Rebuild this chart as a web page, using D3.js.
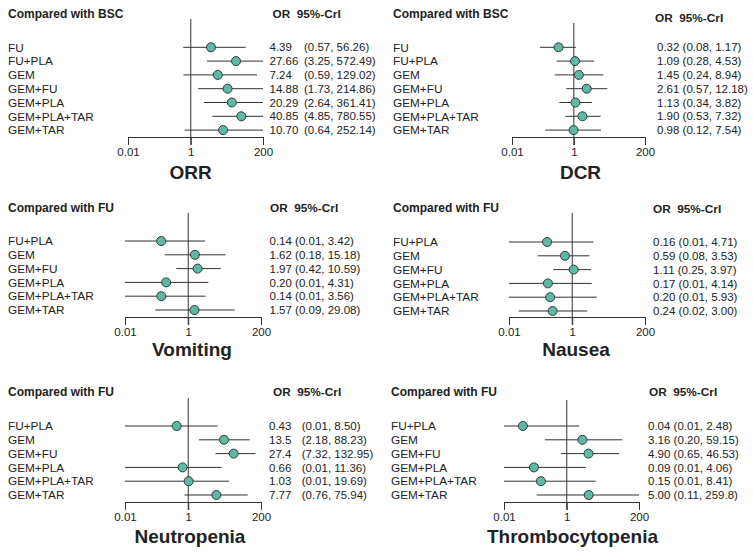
<!DOCTYPE html>
<html>
<head>
<meta charset="utf-8">
<script src="https://cdn.jsdelivr.net/npm/d3@7"></script>
<style>
  body { margin: 0; background: #fff; }
  svg text { font-family: "Liberation Sans", Arial, sans-serif; fill: #222; }
</style>
</head>
<body>
<div class="visHolder"></div>
<script>
// treatments
var armsBSC = ["FU", "FU+PLA", "GEM", "GEM+FU", "GEM+PLA", "GEM+PLA+TAR", "GEM+TAR"];
var armsFU = ["FU+PLA", "GEM", "GEM+FU", "GEM+PLA", "GEM+PLA+TAR", "GEM+TAR"];

// odds ratios and 95% CrI (kept as printed)
var orrOR = ["4.39", "27.66", "7.24", "14.88", "20.29", "40.85", "10.70"];
var orrLo = ["0.57", "3.25", "0.59", "1.73", "2.64", "4.85", "0.64"];
var orrHi = ["56.26", "572.49", "129.02", "214.86", "361.41", "780.55", "252.14"];

var dcrOR = ["0.32", "1.09", "1.45", "2.61", "1.13", "1.90", "0.98"];
var dcrLo = ["0.08", "0.28", "0.24", "0.57", "0.34", "0.53", "0.12"];
var dcrHi = ["1.17", "4.53", "8.94", "12.18", "3.82", "7.32", "7.54"];

var vomOR = ["0.14", "1.62", "1.97", "0.20", "0.14", "1.57"];
var vomLo = ["0.01", "0.18", "0.42", "0.01", "0.01", "0.09"];
var vomHi = ["3.42", "15.18", "10.59", "4.31", "3.56", "29.08"];

var nauOR = ["0.16", "0.59", "1.11", "0.17", "0.20", "0.24"];
var nauLo = ["0.01", "0.08", "0.25", "0.01", "0.01", "0.02"];
var nauHi = ["4.71", "3.53", "3.97", "4.14", "5.93", "3.00"];

var neuOR = ["0.43", "13.5", "27.4", "0.66", "1.03", "7.77"];
var neuLo = ["0.01", "2.18", "7.32", "0.01", "0.01", "0.76"];
var neuHi = ["8.50", "88.23", "132.95", "11.36", "19.69", "75.94"];

var thrOR = ["0.04", "3.16", "4.90", "0.09", "0.15", "5.00"];
var thrLo = ["0.01", "0.20", "0.65", "0.01", "0.01", "0.11"];
var thrHi = ["2.48", "59.15", "46.53", "4.06", "8.41", "259.8"];

var tickVals = [0.01, 1, 200];
var tickLabels = ["0.01", "1", "200"];

var panels = [
  {title: "ORR", ref: "Compared with BSC", arms: armsBSC, or: orrOR, lo: orrLo, hi: orrHi,
   lx: 8, hy: 18, oy: 18, r0: 47.3, ay: 137, x0: 128, x1: 263, vx: 269.5, cx: 304, ox: 272.5, top: 19, ty: 179, tdx: -5},
  {title: "DCR", ref: "Compared with BSC", arms: armsBSC, or: dcrOR, lo: dcrLo, hi: dcrHi,
   lx: 393, hy: 18, oy: 22, r0: 47.3, ay: 137, x0: 512, x1: 645, vx: 657, cx: null, ox: 655, top: 23, ty: 179, tdx: 2},
  {title: "Vomiting", ref: "Compared with FU", arms: armsFU, or: vomOR, lo: vomLo, hi: vomHi,
   lx: 8, hy: 212, oy: 212, r0: 241, ay: 317, x0: 125, x1: 261, vx: 269.5, cx: null, ox: 270, top: 213, ty: 356, tdx: -1},
  {title: "Nausea", ref: "Compared with FU", arms: armsFU, or: nauOR, lo: nauLo, hi: nauHi,
   lx: 393, hy: 212, oy: 213, r0: 242, ay: 317, x0: 509, x1: 645, vx: 653, cx: null, ox: 653, top: 213, ty: 356, tdx: -1},
  {title: "Neutropenia", ref: "Compared with FU", arms: armsFU, or: neuOR, lo: neuLo, hi: neuHi,
   lx: 8, hy: 396, oy: 396, r0: 426, ay: 502, x0: 125, x1: 261, vx: 269, cx: 301.7, ox: 273, top: 398, ty: 543, tdx: -3},
  {title: "Thrombocytopenia", ref: "Compared with FU", arms: armsFU, or: thrOR, lo: thrLo, hi: thrHi,
   lx: 391, hy: 396, oy: 396, r0: 426, ay: 502, x0: 504, x1: 639, vx: 648, cx: null, ox: 649, top: 400, ty: 543, tdx: 1}
];

var rowStep = 13.8;
var dotFill = "#5fb8a5";
var lineColor = "#333";
var labelSize = "11.8px";
var valueSize = "11.5px";

var svg = d3.select(".visHolder").append("svg")
  .attr("width", 753)
  .attr("height", 554);

panels.forEach(function(p) {
  var g = svg.append("g");
  var x = d3.scaleLog().domain([0.01, 200]).range([p.x0, p.x1]).clamp(true);
  var y = function(i) { return p.r0 + i * rowStep; };

  g.append("text")
    .attr("x", p.lx).attr("y", p.hy)
    .style("font-size", "12px").style("font-weight", "bold")
    .text(p.ref);

  g.append("text")
    .attr("x", p.ox).attr("y", p.oy)
    .style("font-size", "11.8px").style("font-weight", "bold")
    .attr("xml:space", "preserve")
    .text("OR  95%-CrI");

  // axis
  var axis = g.append("g")
    .attr("transform", "translate(0," + p.ay + ")")
    .call(d3.axisBottom(x)
      .tickValues(tickVals)
      .tickFormat(function(d, i) { return tickLabels[i]; })
      .tickSize(8)
      .tickSizeOuter(0)
      .tickPadding(3));
  axis.select(".domain").attr("stroke", lineColor);
  axis.selectAll(".tick line").attr("stroke", lineColor);
  axis.selectAll(".tick text")
    .style("font-size", "11.5px")
    .style("font-family", "'Liberation Sans', Arial, sans-serif")
    .attr("fill", "#222");

  // line of no effect
  g.append("line")
    .attr("x1", x(1)).attr("x2", x(1))
    .attr("y1", p.top).attr("y2", p.ay + 8)
    .attr("stroke", lineColor).attr("stroke-width", 1);

  g.selectAll(".whisker")
    .data(p.arms)
    .enter().append("line")
    .attr("class", "whisker")
    .attr("x1", function(d, i) { return x(+p.lo[i]); })
    .attr("x2", function(d, i) { return x(+p.hi[i]); })
    .attr("y1", function(d, i) { return y(i); })
    .attr("y2", function(d, i) { return y(i); })
    .attr("stroke", lineColor).attr("stroke-width", 1);

  g.selectAll(".dot")
    .data(p.arms)
    .enter().append("circle")
    .attr("class", "dot")
    .attr("cx", function(d, i) { return x(+p.or[i]); })
    .attr("cy", function(d, i) { return y(i); })
    .attr("r", 4.5)
    .attr("fill", dotFill)
    .attr("stroke", "#2a3d39").attr("stroke-width", 1);

  g.selectAll(".arm")
    .data(p.arms)
    .enter().append("text")
    .attr("class", "arm")
    .attr("x", p.lx)
    .attr("y", function(d, i) { return y(i); })
    .attr("dy", "0.36em")
    .style("font-size", labelSize)
    .text(function(d) { return d; });

  g.selectAll(".orval")
    .data(p.arms)
    .enter().append("text")
    .attr("class", "orval")
    .attr("x", p.vx)
    .attr("y", function(d, i) { return y(i); })
    .attr("dy", "0.36em")
    .style("font-size", valueSize)
    .text(function(d, i) {
      var ci = "(" + p.lo[i] + ", " + p.hi[i] + ")";
      return p.cx == null ? p.or[i] + " " + ci : p.or[i];
    });

  if (p.cx != null) {
    g.selectAll(".cival")
      .data(p.arms)
      .enter().append("text")
      .attr("class", "cival")
      .attr("x", p.cx)
      .attr("y", function(d, i) { return y(i); })
      .attr("dy", "0.36em")
      .style("font-size", valueSize)
      .text(function(d, i) { return "(" + p.lo[i] + ", " + p.hi[i] + ")"; });
  }

  g.append("text")
    .attr("x", (p.x0 + p.x1) / 2 + p.tdx)
    .attr("y", p.ty)
    .attr("text-anchor", "middle")
    .style("font-size", "19px").style("font-weight", "bold")
    .text(p.title);
});
</script>
</body>
</html>
